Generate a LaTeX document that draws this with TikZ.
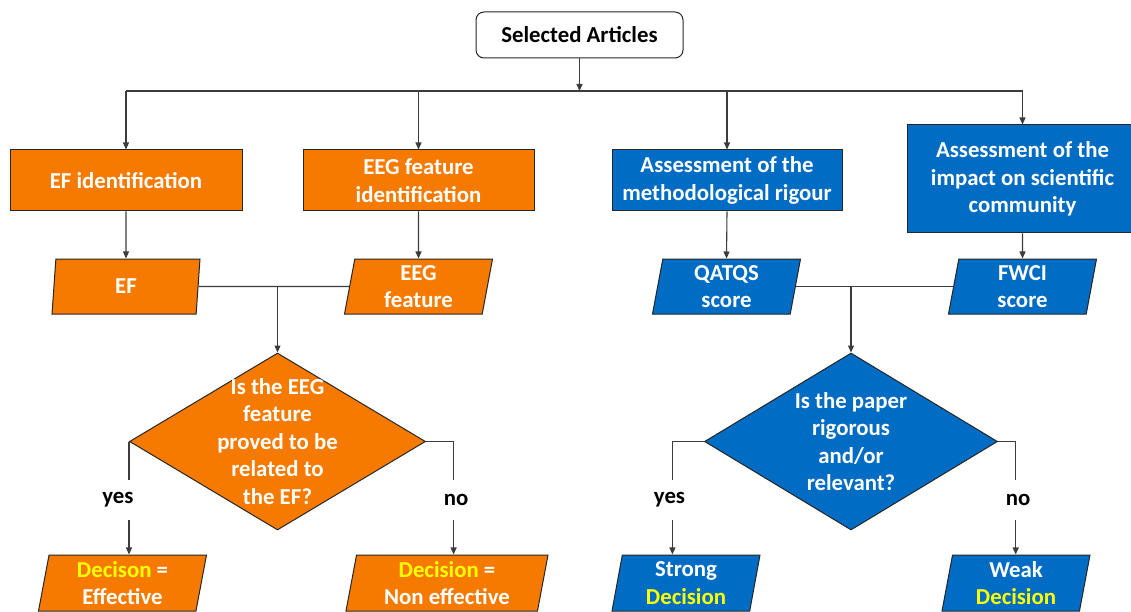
\documentclass[tikz,border=0pt]{standalone}
\usepackage{fontspec}
\setmainfont{Carlito}
\usetikzlibrary{shapes.geometric,arrows.meta}
\definecolor{orf}{RGB}{247,122,0}
\definecolor{blf}{RGB}{0,108,196}
\definecolor{lnc}{RGB}{60,60,60}
\definecolor{ylw}{RGB}{255,255,0}
\begin{document}
\begin{tikzpicture}[x=1pt,y=-1pt,
  font=\fontsize{22.8}{27.5}\selectfont\bfseries,
  box/.style={draw=black!85, line width=1pt, rectangle, inner sep=0pt, align=center, text=white},
  obox/.style={box, fill=orf},
  bbox/.style={box, fill=blf},
  para/.style={trapezium, trapezium left angle=77, trapezium right angle=103, trapezium stretches body,
    draw=black!85, line width=1pt, inner sep=1pt, align=center, text=white,
    minimum height=55pt, minimum width=148pt},
  dia/.style={diamond, draw=black!85, line width=1pt, inner sep=0pt, minimum width=296pt, minimum height=177pt},
  dtext/.style={text=white, align=center, inner sep=0pt},
  conn/.style={draw=lnc, line width=1.1pt},
  arr/.style={conn, -{Triangle[length=7pt,width=6pt]}},
  lab/.style={inner sep=0pt, minimum height=40pt, text=black}
]
\useasboundingbox (0,0) rectangle (1131,612);

% top
\node[box, fill=white, text=black, rounded corners=8pt, minimum width=207pt, minimum height=46pt] (sel) at (579.5,35) {Selected Articles};
\coordinate (busy) at (0,91);

% first row boxes
\node[obox, minimum width=232pt, minimum height=61pt] (efid) at (126,180.5) {EF identification};
\node[obox, minimum width=231pt, minimum height=61pt] (eegid) at (418.5,180.5) {EEG feature\\identification};
\node[bbox, minimum width=230pt, minimum height=61pt] (meth) at (727,180.5) {Assessment of the\\methodological rigour};
\node[bbox, minimum width=231pt, minimum height=108pt] (imp) at (1022.5,179) {Assessment of the\\impact on scientific\\community};

% parallelograms
\node[para, fill=orf] (ef) at (126,286.5) {EF};
\node[para, fill=orf] (eegf) at (418.5,286.5) {EEG\\feature};
\node[para, fill=blf] (qat) at (726.5,286.5) {QATQS\\score};
\node[para, fill=blf] (fwci) at (1022.5,286.5) {FWCI\\score};

% diamonds
\node[dia, fill=orf] (q1) at (277.5,441.5) {};
\node[dtext] (q1t) at (q1) {Is the EEG\\feature\\proved to be\\related to\\the EF?};
\node[dia, fill=blf, minimum width=293pt] (q2) at (851,441.5) {};
\node[dtext] (q2t) at (q2) {Is the paper\\rigorous\\and/or\\relevant?};

% decisions
\node[para, fill=orf, minimum width=168pt, minimum height=56pt] (d1) at (122.5,583) {\textcolor{ylw}{Decison} =\\Effective};
\node[para, fill=orf, minimum width=202pt, minimum height=56pt] (d2) at (447,583) {\textcolor{ylw}{Decision} =\\Non effective};
\node[para, fill=blf, minimum height=56pt] (d3) at (686,583) {Strong\\\textcolor{ylw}{Decision}};
\node[para, fill=blf, minimum height=56pt] (d4) at (1016,583) {Weak\\\textcolor{ylw}{Decision}};

% labels
\node[lab] (y1) at (118,500) {yes};
\node[lab] (n1) at (456,500) {no};
\node[lab] (y2) at (669.5,500) {yes};
\node[lab] (n2) at (1018,500) {no};

\coordinate (k2) at (453.6,441.5);
\coordinate (k3) at (672.4,441.5);
\coordinate (k4) at (1015.7,441.5);

% connectors
\draw[arr] (sel.south) -- (sel.south |- busy);
\draw[conn] (efid.north |- busy) -- (imp.north |- busy);
\draw[arr] (efid.north |- busy) -- (efid.north);
\draw[arr] (eegid.north |- busy) -- (eegid.north);
\draw[arr] (meth.north |- busy) -- (meth.north);
\draw[arr] (imp.north |- busy) -- (imp.north);

\draw[arr] (efid.south) -- (ef.north);
\draw[arr] (eegid.south) -- (eegf.north);
\draw[arr] (meth.south) -- (qat.north);
\draw[arr] (imp.south) -- (fwci.north);

\draw[conn] (ef.east) -- (eegf.west);
\draw[arr] (q1.north |- ef.east) -- (q1.north);
\draw[conn] (qat.east) -- (fwci.west);
\draw[arr] (q2.north |- qat.east) -- (q2.north);

\draw[conn] (q1.west) -- (q1.west |- y1.north);
\draw[arr] (q1.west |- y1.south) -- (q1.west |- d1.north);
\draw[conn] (q1.east) -- (k2) -- (k2 |- n1.north);
\draw[arr] (k2 |- n1.south) -- (k2 |- d2.north);

\draw[conn] (q2.west) -- (k3) -- (k3 |- y2.north);
\draw[arr] (k3 |- y2.south) -- (k3 |- d3.north);
\draw[conn] (q2.east) -- (k4) -- (k4 |- n2.north);
\draw[arr] (k4 |- n2.south) -- (k4 |- d4.north);
\end{tikzpicture}
\end{document}
